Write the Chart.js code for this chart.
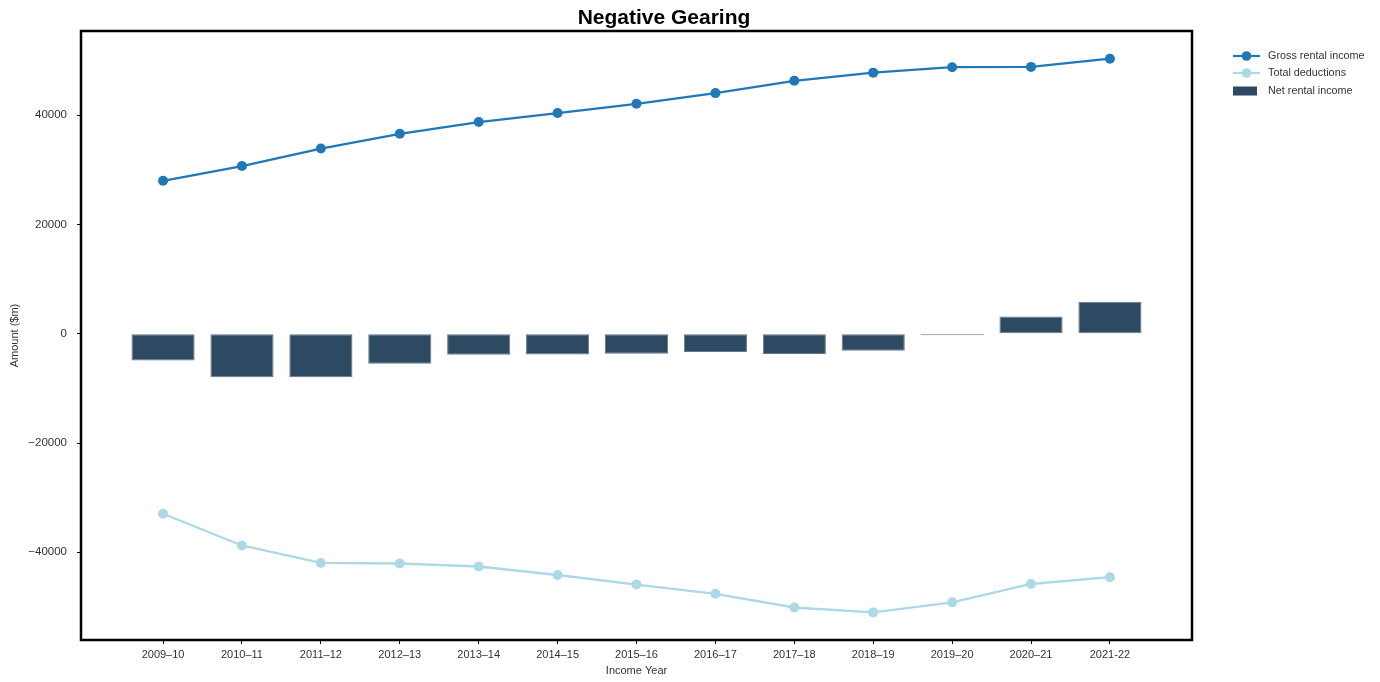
<!DOCTYPE html>
<html>
<head>
<meta charset="utf-8">
<title>Negative Gearing</title>
<script src="https://cdn.jsdelivr.net/npm/chart.js@4.4.1/dist/chart.umd.min.js"></script>
<style>
  html, body { margin: 0; padding: 0; background: #fff; }
  #wrap { width: 1380px; height: 682px; }
</style>
</head>
<body>
<div id="wrap"><canvas id="chart" width="1380" height="682"></canvas></div>
<script>
// Income years (last label uses a plain hyphen, as published)
const years = ['2009–10', '2010–11', '2011–12', '2012–13', '2013–14', '2014–15', '2015–16',
               '2016–17', '2017–18', '2018–19', '2019–20', '2020–21', '2021-22'];

// Amounts in $m
const grossRentalIncome = [28000, 30700, 33900, 36600, 38750, 40400, 42100,
                           44050, 46300, 47800, 48800, 48850, 50350];
const totalDeductions   = [-32950, -38750, -41950, -42050, -42600, -44150, -45900,
                           -47600, -50100, -51000, -49150, -45800, -44550];
const netRentalIncome   = [-4900, -7950, -7950, -5500, -3850, -3800, -3650,
                           -3350, -3700, -3100, -250, 3150, 5850];

const yTickValues = [-40000, -20000, 0, 20000, 40000];
const yRange = [-56050, 55420];

const FONT = "'Liberation Sans', Arial, Helvetica, sans-serif";
const TEXT = '#333333';

const COLORS = {
  gross: '#2178b8',
  deductions: '#add8e6',
  net: '#2e4a63',
  netEdge: '#62788d'
};

const asPoints = arr => arr.map((v, i) => ({ x: i, y: v }));

// Axes frame drawn around the plotting area
const framePlugin = {
  id: 'frame',
  afterDatasetsDraw(chart) {
    const { ctx, chartArea: a } = chart;
    ctx.save();
    ctx.strokeStyle = '#000';
    ctx.lineWidth = 2.5;
    ctx.strokeRect(a.left, a.top, a.right - a.left, a.bottom - a.top);
    ctx.restore();
  }
};

// Chart heading
const headingPlugin = {
  id: 'heading',
  afterDraw(chart) {
    const { ctx } = chart;
    ctx.save();
    ctx.font = `bold 21px ${FONT}`;
    ctx.fillStyle = '#000';
    ctx.textAlign = 'center';
    ctx.textBaseline = 'alphabetic';
    ctx.fillText('Negative Gearing', 664, 24);
    ctx.restore();
  }
};

// Legend at the upper right, outside the plotting area
const sideLegendPlugin = {
  id: 'sideLegend',
  afterDraw(chart) {
    const { ctx } = chart;
    const ds = chart.data.datasets;
    const x0 = 1233, lineLen = 27, textX = 1268;
    const rows = [56, 73, 91];
    ctx.save();
    ctx.font = `10.8px ${FONT}`;
    ctx.textBaseline = 'middle';
    ctx.textAlign = 'left';
    ds.forEach((d, r) => {
      const y = rows[r];
      if (d.type === 'line') {
        ctx.strokeStyle = d.borderColor;
        ctx.lineWidth = 2.2;
        ctx.beginPath();
        ctx.moveTo(x0, y);
        ctx.lineTo(x0 + lineLen, y);
        ctx.stroke();
        ctx.fillStyle = d.pointBackgroundColor;
        ctx.beginPath();
        ctx.arc(x0 + lineLen / 2, y, 4.8, 0, Math.PI * 2);
        ctx.fill();
      } else {
        ctx.fillStyle = d.backgroundColor;
        ctx.fillRect(x0, y - 4.5, 24, 9);
      }
      ctx.fillStyle = TEXT;
      ctx.fillText(d.label, textX, y);
    });
    ctx.restore();
  }
};

new Chart(document.getElementById('chart'), {
  data: {
    datasets: [
      {
        type: 'line',
        label: 'Gross rental income',
        data: asPoints(grossRentalIncome),
        borderColor: COLORS.gross,
        backgroundColor: COLORS.gross,
        pointBackgroundColor: COLORS.gross,
        pointBorderWidth: 0,
        pointRadius: 5,
        borderWidth: 2.3,
        tension: 0,
        order: 1
      },
      {
        type: 'line',
        label: 'Total deductions',
        data: asPoints(totalDeductions),
        borderColor: COLORS.deductions,
        backgroundColor: COLORS.deductions,
        pointBackgroundColor: COLORS.deductions,
        pointBorderWidth: 0,
        pointRadius: 5,
        borderWidth: 2.3,
        tension: 0,
        order: 1
      },
      {
        type: 'bar',
        label: 'Net rental income',
        data: asPoints(netRentalIncome),
        backgroundColor: COLORS.net,
        borderColor: COLORS.netEdge,
        borderWidth: 1,
        borderSkipped: false,
        categoryPercentage: 1.0,
        barPercentage: 0.8,
        order: 2
      }
    ]
  },
  options: {
    responsive: false,
    animation: false,
    devicePixelRatio: 1,
    layout: { padding: { top: 31, right: 188, bottom: 0, left: 0 } },
    plugins: {
      legend: { display: false },
      title: { display: false },
      tooltip: { enabled: false }
    },
    scales: {
      x: {
        type: 'linear',
        min: -1.04,
        max: years.length - 1 + 1.04,
        offset: false,
        afterFit(scale) { scale.height = 42; },
        afterBuildTicks(scale) { scale.ticks = years.map((_, i) => ({ value: i })); },
        ticks: {
          autoSkip: false,
          maxRotation: 0,
          padding: 4,
          color: TEXT,
          font: { family: FONT, size: 11 },
          callback: v => years[v]
        },
        grid: {
          offset: false,
          drawOnChartArea: false,
          drawTicks: true,
          tickLength: 4,
          tickColor: '#000',
          tickWidth: 1
        },
        border: { display: false },
        title: {
          display: true,
          text: 'Income Year',
          color: TEXT,
          font: { family: FONT, size: 11 },
          padding: { top: 4, bottom: 4 }
        }
      },
      y: {
        type: 'linear',
        min: yRange[0],
        max: yRange[1],
        afterFit(scale) { scale.width = 81; },
        afterBuildTicks(scale) { scale.ticks = yTickValues.map(v => ({ value: v })); },
        ticks: {
          padding: 10,
          color: TEXT,
          font: { family: FONT, size: 11.5 },
          callback: v => (v < 0 ? '\u2212' + Math.abs(v) : String(v))
        },
        grid: {
          drawOnChartArea: false,
          drawTicks: true,
          tickLength: 4,
          tickColor: '#000',
          tickWidth: 1
        },
        border: { display: false },
        title: {
          display: true,
          text: 'Amount ($m)',
          color: TEXT,
          font: { family: FONT, size: 11 },
          padding: { top: 8, bottom: 4 }
        }
      }
    }
  },
  plugins: [framePlugin, headingPlugin, sideLegendPlugin]
});
</script>
</body>
</html>
